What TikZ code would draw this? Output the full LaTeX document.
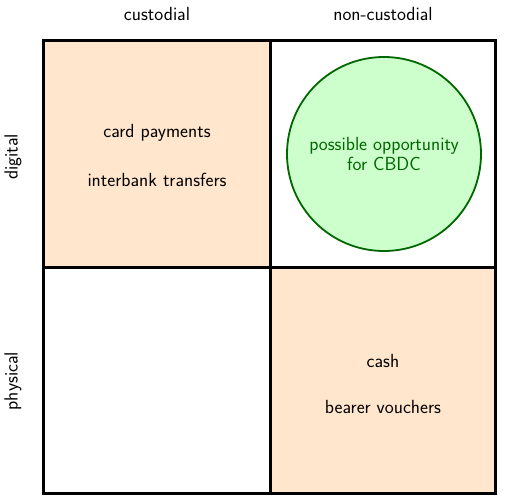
\documentclass[tikz,border=0pt]{standalone}
\definecolor{peach}{HTML}{FFE6CC}
\definecolor{mint}{HTML}{CCFFCC}
\definecolor{dgreen}{HTML}{006600}
\begin{document}
\begin{tikzpicture}[x=1pt,y=-1pt,
  cell/.style={draw=black,line width=3pt},
  lbl/.style={font=\sffamily\fontsize{19}{23}\selectfont,inner sep=0pt},
  ctext/.style={font=\sffamily\fontsize{19}{20}\selectfont,align=center,inner sep=0pt}]
\useasboundingbox (0,0) rectangle (505,503);
\fill[peach] (43.5,40.5) rectangle (270,267);
\fill[peach] (270,267) rectangle (495.5,493.5);
\draw[cell] (43.5,40.5) rectangle (495.5,493.5);
\draw[cell] (270,40.5) -- (270,493.5);
\draw[cell] (43.5,267) -- (495.5,267);
\node[draw=dgreen,fill=mint,line width=1.8pt,circle,minimum size=194pt,inner sep=0pt] (c) at (384,154) {};
\node[ctext,text=dgreen] (ct) at (384,154) {possible opportunity\\for CBDC};
\node[lbl] (h1) at (157,14) {custodial};
\node[lbl] (h2) at (383,14) {non-custodial};
\node[lbl,rotate=90] (v1) at (13,157) {digital};
\node[lbl,rotate=90] (v2) at (13,381) {physical};
\node[lbl] (t1) at (157,133) {card payments};
\node[lbl] (t2) at (157,180) {interbank transfers};
\node[lbl] (t3) at (383,361) {cash};
\node[lbl] (t4) at (383,407) {bearer vouchers};
\end{tikzpicture}
\end{document}
